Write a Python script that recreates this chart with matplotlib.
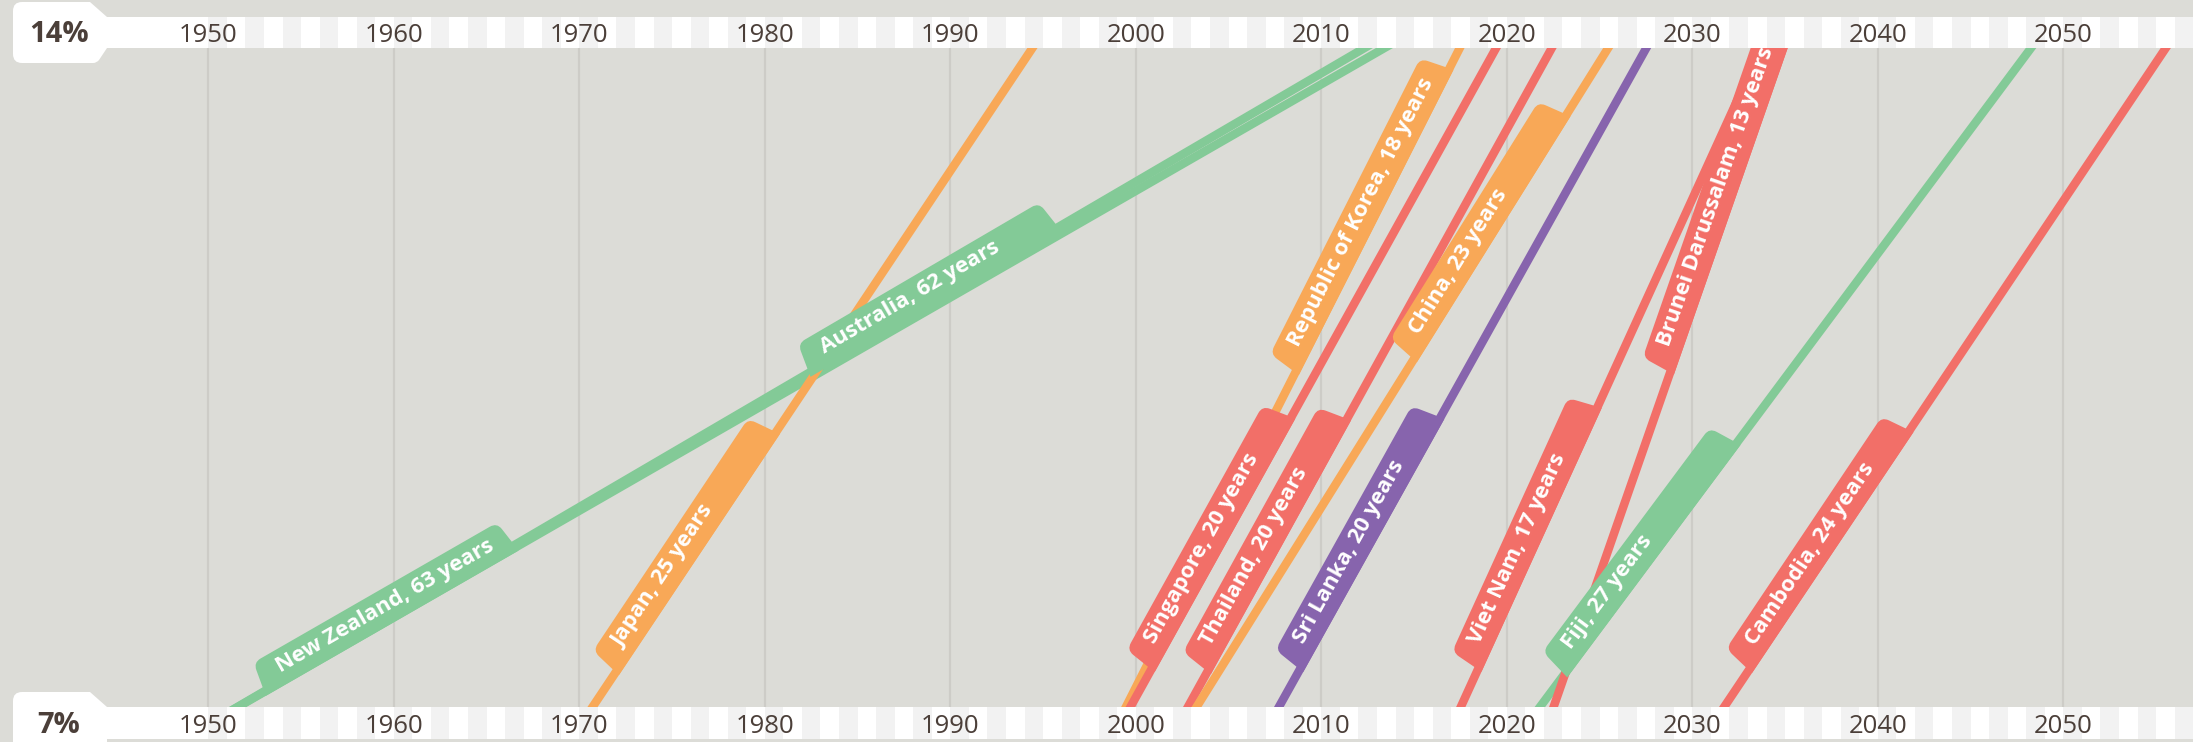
"""
Speed of ageing: years taken for the share of people aged 65+ to go from 7% to 14%.
"""
import numpy as np
import matplotlib.pyplot as plt
from matplotlib.path import Path
from matplotlib.patches import PathPatch
from matplotlib.transforms import IdentityTransform


countries = ["New Zealand", "Australia", "Japan", "Republic of Korea", "Singapore",
             "Thailand", "China", "Sri Lanka", "Viet Nam", "Fiji",
             "Brunei Darussalam", "Cambodia"]
years_taken = [63, 62, 25, 18, 20, 20, 23, 20, 17, 27, 13, 24]
year_at_7 = [1950.0, 1950.0, 1970.1, 1999.0, 1999.2, 2002.3, 2002.7, 2007.2,
             2017.1, 2021.1, 2022.2, 2031.1]
year_at_14 = [2014.9, 2013.8, 1995.0, 2017.9, 2019.9, 2022.9, 2026.0, 2028.0,
              2034.1, 2048.9, 2035.2, 2056.1]
region = ["Pacific", "Pacific", "East Asia", "East Asia", "South-East Asia",
          "South-East Asia", "East Asia", "South Asia", "South-East Asia",
          "Pacific", "South-East Asia", "South-East Asia"]
decades = list(range(1950, 2051, 10))

colors = {"Pacific": "#83ca97", "East Asia": "#f8a857",
          "South-East Asia": "#f26f68", "South Asia": "#8764ad"}
# where each tag starts along its line (0 = 7%, 1 = 14%)
tag_start = [0.046, 0.507, 0.074, 0.507, 0.078, 0.075, 0.526, 0.078, 0.078,
             0.071, 0.507, 0.077]

W_PX, H_PX = 2193, 742
bg = "#dcdcd7"
ink = "#4b3f39"
font = "Open Sans"

fig = plt.figure(figsize=(W_PX / 100, H_PX / 100), dpi=100)
fig.patch.set_facecolor(bg)
ax = fig.add_axes([0, 0, 1, 1])
ax.set_xlim(1938.77, 2056.99)
ax.set_ylim(6.818, 14.324)
ax.axis("off")
ident = IdentityTransform()


def disp(x, y):
    # image pixel (y down) -> display pixel (y up)
    return np.array([x, H_PX - y], dtype=float)


def val(y):
    # image pixel row -> data value
    return ax.transData.inverted().transform((0, H_PX - y))[1]


def rounded(pts, radii):
    verts, codes = [], []
    n = len(pts)
    for i in range(n):
        p = np.asarray(pts[i], float)
        r = radii[i]
        if r == 0:
            verts.append(p)
            codes.append(Path.LINETO)
            continue
        a, b = np.asarray(pts[i - 1], float), np.asarray(pts[(i + 1) % n], float)
        pa = p + (a - p) / np.linalg.norm(a - p) * r
        pb = p + (b - p) / np.linalg.norm(b - p) * r
        verts += [pa, p, pb]
        codes += [Path.LINETO, Path.CURVE3, Path.CURVE3]
    codes[0] = Path.MOVETO
    verts.append(verts[0])
    codes.append(Path.CLOSEPOLY)
    return Path(verts, codes)


# decade gridlines
ax.vlines(decades, val(707), val(48), color="#cdccc7", lw=1.6, zorder=1)

# country lines
lw_px = 8.5
for i in range(len(countries)):
    ax.plot([year_at_7[i], year_at_14[i]], [7, 14], color=colors[region[i]],
            lw=lw_px * 72 / 100, solid_capstyle="butt", zorder=2)

# tags
renderer = fig.canvas.get_renderer()
tag_w, pad, min_len = 35, 22, 290
for i, c in enumerate(countries):
    p0 = ax.transData.transform((year_at_7[i], 7))
    p1 = ax.transData.transform((year_at_14[i], 14))
    length = np.linalg.norm(p1 - p0)
    u = (p1 - p0) / length
    n = np.array([-u[1], u[0]])
    txt = ax.text(0, 0, f"{c}, {years_taken[i]} years", transform=ident,
                  family=font, fontsize=16, fontweight="bold", color="white",
                  ha="left", va="center", rotation_mode="anchor", zorder=4)
    tw = txt.get_window_extent(renderer).width
    box_len = max(min_len, tw + 2 * pad)
    s_a = tag_start[i] * length
    s_b = s_a + box_len
    t_in = -lw_px / 2
    t_out = t_in + tag_w

    def at(s, t):
        return p0 + u * s + n * t

    pts = [at(s_a, t_in), at(s_a + 6, t_out), at(s_b - 5, t_out), at(s_b, t_in)]
    ax.add_patch(PathPatch(rounded(pts, [0, 8, 8, 0]), transform=ident,
                           facecolor=colors[region[i]], edgecolor="none", zorder=3))
    ang = np.degrees(np.arctan2(u[1], u[0]))
    txt.set_position(at(s_a + pad + 2, t_in + tag_w / 2 + 1))
    txt.set_rotation(ang)

# axis bands with year stripes
for top, bot, base in [(17, 48, 42.3), (707, 739, 732.7)]:
    band = [disp(107, top), disp(W_PX, top), disp(W_PX, bot), disp(107, bot)]
    ax.add_patch(PathPatch(rounded(band, [0, 0, 0, 0]), transform=ident,
                           facecolor="white", edgecolor="none", zorder=10))
    for yr in range(1950, 2057, 2):
        x0 = ax.transData.transform((yr, 0))[0]
        x1 = ax.transData.transform((yr + 1, 0))[0]
        stripe = [disp(x0, top), disp(x1, top), disp(x1, bot), disp(x0, bot)]
        ax.add_patch(PathPatch(rounded(stripe, [0, 0, 0, 0]), transform=ident,
                               facecolor="#f2f2f2", edgecolor="none", zorder=10.5))
    for d in decades:
        ax.text(d, val(base), str(d), family=font, fontsize=18.5, color=ink,
                ha="center", va="baseline", zorder=11)

# 14% / 7% end boxes
box14 = [disp(13, 2), disp(90, 2), disp(107, 17), disp(107, 48), disp(97, 63), disp(13, 63)]
box7 = [disp(13, 692), disp(90, 692), disp(107, 707), disp(107, 760), disp(13, 760)]
ax.add_patch(PathPatch(rounded(box14, [9, 0, 0, 0, 4, 9]), transform=ident,
                       facecolor="white", edgecolor="none", zorder=12))
ax.add_patch(PathPatch(rounded(box7, [9, 0, 0, 0, 0]), transform=ident,
                       facecolor="white", edgecolor="none", zorder=12))
ax.text(59, H_PX - 41.7, "14%", transform=ident, family=font, fontsize=21,
        fontweight="bold", color=ink, ha="center", va="baseline", zorder=13)
ax.text(59, H_PX - 733, "7%", transform=ident, family=font, fontsize=21,
        fontweight="bold", color=ink, ha="center", va="baseline", zorder=13)

fig.savefig("out.png", dpi=100, facecolor=bg)
